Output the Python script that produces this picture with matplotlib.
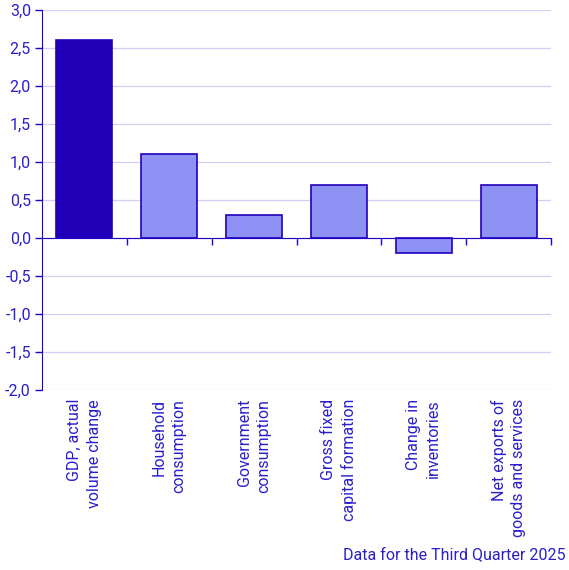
import matplotlib.pyplot as plt
from matplotlib.transforms import blended_transform_factory

categories = [
    "GDP, actual\nvolume change",
    "Household\nconsumption",
    "Government\nconsumption",
    "Gross fixed\ncapital formation",
    "Change in\ninventories",
    "Net exports of\ngoods and services",
]
values = [2.6, 1.1, 0.3, 0.7, -0.2, 0.7]
y_ticks = [3.0, 2.5, 2.0, 1.5, 1.0, 0.5, 0.0, -0.5, -1.0, -1.5, -2.0]
caption = "Data for the Third Quarter 2025"

dark = "#2200BA"
light = "#8E92F5"
line = "#2200CC"
text = "#2A1ECC"
grid = "#D2CEF4"

plt.rcParams["font.family"] = ["Roboto", "DejaVu Sans"]

fig = plt.figure(figsize=(5.69, 5.70), dpi=100)
ax = fig.add_axes([42 / 569, (570 - 390) / 570, 509 / 569, 380 / 570])

x = list(range(len(categories)))
colors = [dark] + [light] * (len(categories) - 1)
ax.bar(x, values, width=0.66, color=colors, edgecolor=dark, linewidth=1.2, zorder=3)

ax.set_xlim(-0.5, len(categories) - 0.5)
ax.set_ylim(-2.0, 3.0)
ax.set_yticks(y_ticks)
ax.set_yticklabels([f"{v:.1f}".replace(".", ",") for v in y_ticks],
                   color=text, fontsize=11.5)
ax.yaxis.grid(True, color=grid, linewidth=0.9, zorder=0)
ax.tick_params(axis="y", length=5, width=1, color=line, pad=3)

# zero line with tick marks at category boundaries
ax.spines["bottom"].set_position(("data", 0))
ax.spines["bottom"].set_color(line)
ax.spines["bottom"].set_zorder(4)
ax.set_xticks([i + 0.5 for i in x])
ax.set_xticklabels([])
ax.tick_params(axis="x", length=5, width=1, color=line, direction="out")

ax.spines["left"].set_color(line)
ax.spines["top"].set_visible(False)
ax.spines["right"].set_visible(False)

trans = blended_transform_factory(ax.transData, ax.transAxes)
for i, label in enumerate(categories):
    ax.text(i, -0.024, label, transform=trans, rotation=90, ha="center", va="top",
            multialignment="right", linespacing=1.4, color=text, fontsize=11.5)

fig.text(566 / 569, 1 - 555 / 570, caption, ha="right", va="center",
         color=text, fontsize=11.5)

fig.savefig("out.png", dpi=100)
